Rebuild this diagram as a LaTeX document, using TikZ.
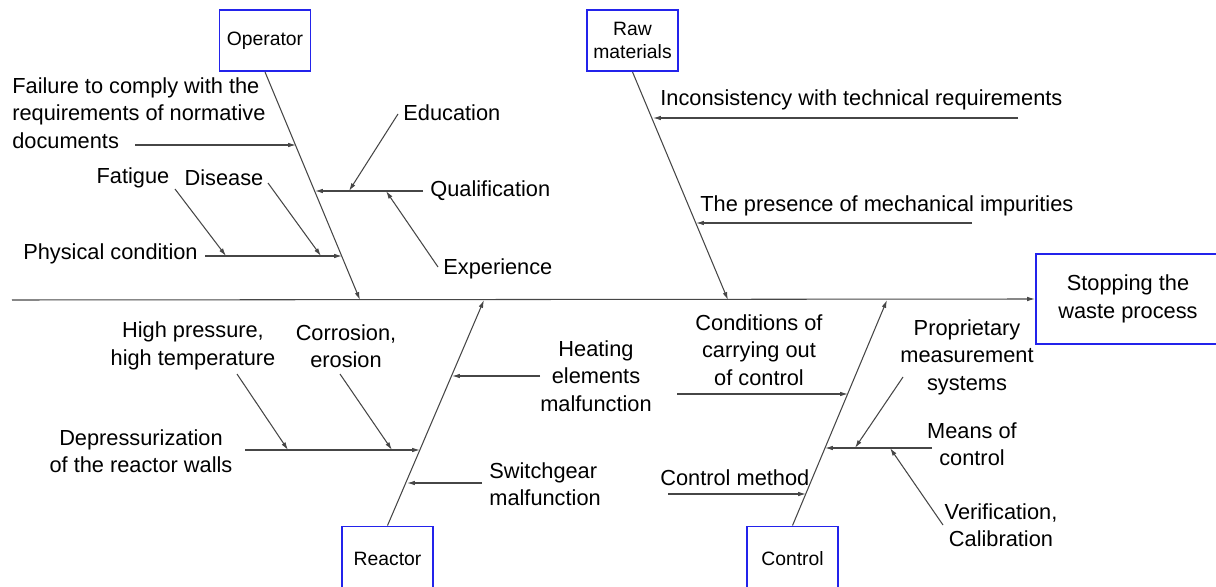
\documentclass[tikz,border=0pt]{standalone}
\usepackage{fontspec}
\setmainfont{Liberation Sans}
\usepackage{xcolor}
\usetikzlibrary{positioning}
\usetikzlibrary{arrows.meta}
\usetikzlibrary{calc}

\definecolor{boxblue}{RGB}{35,35,235}
\definecolor{bonegray}{RGB}{70,70,70}

\begin{document}
\begin{tikzpicture}[x=0.02cm,y=-0.02cm,
  bone/.style={draw=bonegray,line width=0.6pt,-{Latex[length=4.5pt,width=2.6pt]}},
  plain/.style={draw=bonegray,line width=0.6pt},
  cause/.style={inner sep=0pt,font=\fontsize{12.4}{15.6}\selectfont,align=center},
  catbox/.style={draw=boxblue,line width=1.1pt,minimum width=1.82cm,minimum height=1.22cm,inner sep=1pt,font=\fontsize{11}{13}\selectfont,align=center}]
\useasboundingbox (0,0) rectangle (1216,587);
%%%%%%%%%%%%%%%%%%%%%%%%%%%%%%%%%%%%%
\node[catbox] (op) at (265,40.5) {Operator};
\node[catbox] (raw) at (632.5,40.5) {Raw\\materials};
\node[catbox,minimum height=1.3cm] (re) at (387.5,559) {Reactor};
\node[catbox,minimum height=1.3cm] (ctl) at (792.5,559) {Control};
\node[catbox,cause,inner sep=1pt,minimum width=3.68cm,minimum height=1.8cm] (effect) at (1128,299) {Stopping the\\waste process};
%%%%%%%%%%%%%%%%%%%%%%%%%%%%%%%%%%%%%
\coordinate (spL) at (12,300);
\coordinate (opS) at (360,300);
\coordinate (rawS) at (728,300);
\coordinate (reS) at (484,300);
\coordinate (ctlS) at (887,300);
%%%%%%%%%%%%%% operator
\node[cause,anchor=west,align=left] (fail) at (12,113) {Failure to comply with the\\requirements of normative\\documents};
\coordinate (failL) at (135,145);
\coordinate (failR) at (296,145);
\node[cause] (fat) at (133,178) {Fatigue};
\node[cause] (dis) at (224,178) {Disease};
\node[cause,anchor=east] (phys) at (198,254) {Physical condition};
\coordinate (physL) at (205,256);
\coordinate (physR) at (342,256);
\coordinate (fatA) at (175,189);
\coordinate (fatB) at (226,256);
\coordinate (disA) at (268,183);
\coordinate (disB) at (321,256);
\node[cause,anchor=west] (edu) at (403,113) {Education};
\node[cause,anchor=west] (qual) at (430,191) {Qualification};
\node[cause,anchor=west] (exp) at (443,269) {Experience};
\coordinate (qualR) at (423,191);
\coordinate (qualL) at (315,191);
\coordinate (eduA) at (398,114);
\coordinate (eduB) at (349,191);
\coordinate (expA) at (438,267);
\coordinate (expB) at (386,191);
%%%%%%%%%%%%%% raw materials
\node[cause,anchor=west] (inc) at (660,100) {Inconsistency with technical requirements};
\node[cause,anchor=west] (imp) at (700,206) {The presence of mechanical impurities};
\coordinate (incR) at (1018,118);
\coordinate (incL) at (653,118);
\coordinate (impR) at (972,223);
\coordinate (impL) at (696,223);
%%%%%%%%%%%%%% reactor
\node[cause] (hp) at (193,346) {High pressure,\\high temperature};
\node[cause] (cor) at (346,346) {Corrosion,\\erosion};
\node[cause] (dep) at (141,451) {Depressurization\\of the reactor walls};
\node[cause] (heat) at (596,376) {Heating\\elements\\malfunction};
\node[cause,anchor=west,align=left] (sw) at (489,484) {Switchgear\\malfunction};
\coordinate (depL) at (245,450);
\coordinate (depR) at (420,450);
\coordinate (hpA) at (237,374);
\coordinate (hpB) at (288,450);
\coordinate (corA) at (340,374);
\coordinate (corB) at (392,450);
\coordinate (heatR) at (540,376);
\coordinate (heatL) at (452,376);
\coordinate (swR) at (482,483);
\coordinate (swL) at (407,483);
%%%%%%%%%%%%%% control
\node[cause] (cond) at (759,350) {Conditions of\\carrying out\\of control};
\node[cause,anchor=west] (meth) at (660,478) {Control method};
\node[cause] (prop) at (967,357) {Proprietary\\measurement\\systems};
\node[cause] (means) at (972,444) {Means of\\control};
\node[cause] (ver) at (1001,525) {Verification,\\Calibration};
\coordinate (condL) at (677,394);
\coordinate (condR) at (848,394);
\coordinate (methL) at (668,494);
\coordinate (methR) at (806,494);
\coordinate (meansR) at (932,448);
\coordinate (meansL) at (825,448);
\coordinate (propA) at (903,377);
\coordinate (propB) at (855,448);
\coordinate (verA) at (943,525);
\coordinate (verB) at (890,448);

\draw[bone] (spL) -- (effect.west);
\draw[bone] (op.south) -- (opS);
\draw[bone] (raw.south) -- (rawS);
\draw[bone] (re.north) -- (reS);
\draw[bone] (ctl.north) -- (ctlS);
%%%%%%%%%%%%%%%%%%%%%%%%%%%%%
\draw[bone] (failL) -- (failR);
\draw[bone] (physL) -- (physR);
\draw[bone] (fatA) -- (fatB);
\draw[bone] (disA) -- (disB);
\draw[bone] (qualR) -- (qualL);
\draw[bone] (eduA) -- (eduB);
\draw[bone] (expA) -- (expB);
%%%%%%%%%%%%%%%%%%%%%%%%%%%%%
\draw[bone] (incR) -- (incL);
\draw[bone] (impR) -- (impL);
%%%%%%%%%%%%%%%%%%%%%%%%%%%%%
\draw[bone] (depL) -- (depR);
\draw[bone] (hpA) -- (hpB);
\draw[bone] (corA) -- (corB);
\draw[bone] (heatR) -- (heatL);
\draw[bone] (swR) -- (swL);
%%%%%%%%%%%%%%%%%%%%%%%%%%%%%
\draw[bone] (condL) -- (condR);
\draw[bone] (methL) -- (methR);
\draw[bone] (meansR) -- (meansL);
\draw[bone] (propA) -- (propB);
\draw[bone] (verA) -- (verB);
\end{tikzpicture}
\end{document}
